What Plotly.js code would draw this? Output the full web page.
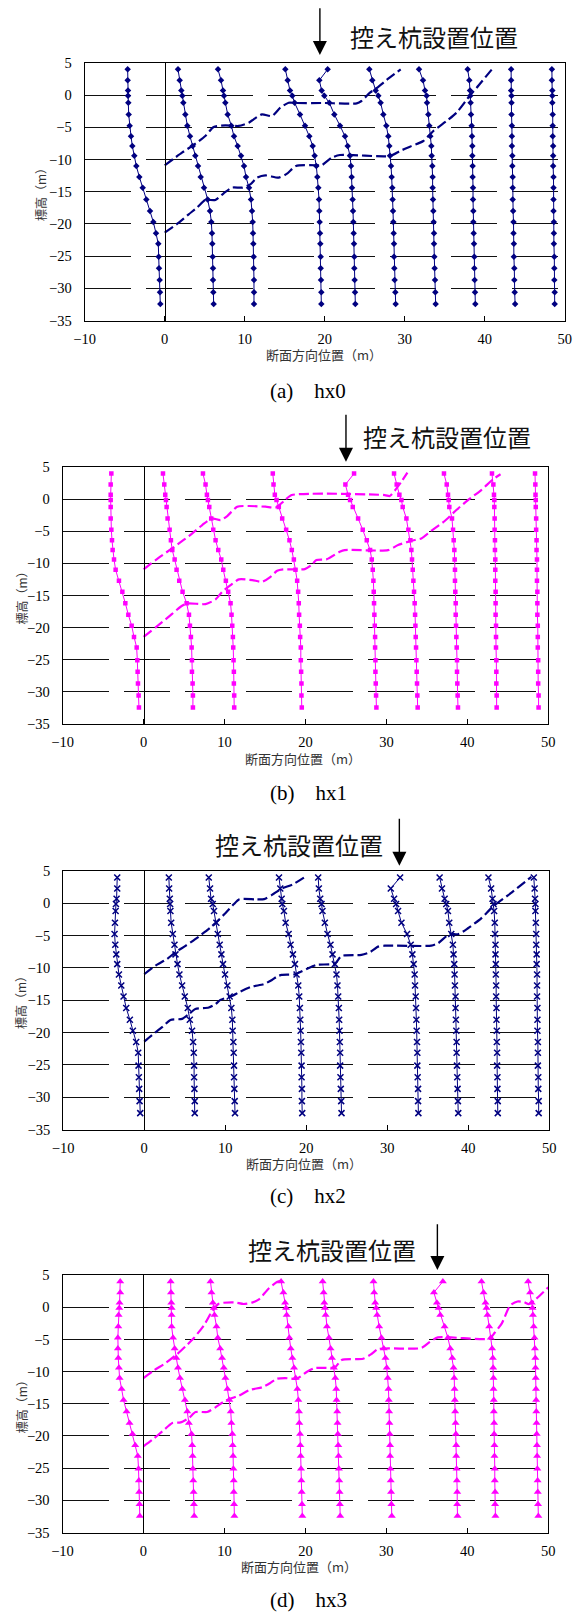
<!DOCTYPE html>
<html><head><meta charset="utf-8">
<script src="https://cdn.plot.ly/plotly-3.0.1.min.js"></script>
<style>html,body{margin:0;padding:0;background:#fff}#chart{width:576px;height:1614px}</style>
</head><body><div id="chart"></div>
<script>
// ---------------- data ----------------
const levels = [4.0, 2.3, 0.7, -0.1, -1.2, -3.0, -4.75, -6.4, -7.9, -9.4, -11.0, -12.7, -14.4, -16.2, -18.0, -19.7, -21.45, -23.1, -25.1, -26.9, -28.7, -30.6, -32.45];

const xTickVals = [-10, 0, 10, 20, 30, 40, 50];
const yTickVals = [5, 0, -5, -10, -15, -20, -25, -30, -35];

const captions = ['(a)\u2003hx0', '(b)\u2003hx1', '(c)\u2003hx2', '(d)\u2003hx3'];
const anchorLabel = '控え杭設置位置';
const xTitle = '断面方向位置（m）';
const yTitle = '標高（m）';
const arrowX = [19.4, 25.0, 31.5, 36.3];

// (a) hx0
const hx0Piles = [
  [-4.63,-4.63,-4.59,-4.59,-4.55,-4.5,-4.38,-4.21,-4.05,-3.8,-3.55,-3.17,-2.75,-2.3,-1.84,-1.42,-1.09,-0.8,-0.75,-0.71,-0.63,-0.59,-0.55],
  [1.66,1.87,2.08,2.2,2.33,2.58,2.83,3.16,3.5,3.83,4.16,4.5,4.91,5.37,5.66,5.83,5.91,5.95,6.0,6.04,6.04,6.08,6.12],
  [6.66,7.04,7.29,7.41,7.58,7.87,8.33,8.66,9.12,9.54,9.91,10.16,10.54,10.79,10.91,11.0,11.04,11.08,11.12,11.12,11.16,11.16,11.16],
  [15.08,15.37,15.66,15.95,16.24,16.91,17.54,18.08,18.5,18.74,18.95,19.08,19.2,19.29,19.33,19.37,19.41,19.45,19.5,19.5,19.54,19.58,19.58],
  [20.37,19.33,19.62,19.95,20.58,21.2,21.91,22.54,22.87,23.16,23.29,23.37,23.41,23.49,23.54,23.58,23.62,23.66,23.7,23.7,23.74,23.79,23.83],
  [25.58,25.95,26.37,26.7,26.99,27.33,27.7,27.95,28.08,28.16,28.29,28.37,28.45,28.49,28.54,28.58,28.62,28.66,28.66,28.7,28.74,28.83,28.87],
  [31.79,32.29,32.54,32.74,32.79,32.95,33.08,33.2,33.33,33.37,33.45,33.49,33.49,33.54,33.58,33.62,33.66,33.66,33.7,33.74,33.79,33.83,33.87],
  [37.87,38.08,38.16,38.2,38.24,38.29,38.37,38.41,38.45,38.45,38.49,38.49,38.54,38.54,38.58,38.58,38.62,38.66,38.7,38.7,38.74,38.79,38.83],
  [43.3,43.3,43.3,43.35,43.35,43.35,43.4,43.4,43.4,43.45,43.45,43.5,43.5,43.5,43.55,43.6,43.6,43.65,43.65,43.7,43.7,43.75,43.8],
  [48.4,48.4,48.45,48.45,48.45,48.5,48.5,48.5,48.55,48.55,48.55,48.6,48.6,48.6,48.6,48.65,48.65,48.65,48.7,48.7,48.7,48.75,48.75]
];
const hx0UpperX = [0,2.16,3.54,5.08,6.12,7.58,9.25,10.5,11.12,12.16,13.41,14.45,15.5,16.5,20.0,24.0,24.6,25.66,26.58,27.74,29.5];
const hx0UpperY = [-10.9,-8.94,-7.8,-6.35,-4.95,-4.69,-4.79,-4.28,-3.76,-2.99,-3.25,-1.95,-1.18,-1.23,-1.23,-1.28,-0.92,0.38,1.15,2.34,4.0];
const hx0LowerX = [0,1.75,3.0,4.04,5.08,6.33,7.37,8.41,9.66,10.7,11.54,12.58,14.25,15.29,16.41,19.2,19.62,20.87,21.91,28.16,29.41,30.66,32.33,33.58,35.24,36.49,38.16,39.0,40.9];
const hx0LowerY = [-21.36,-19.81,-18.51,-17.48,-16.29,-16.29,-15.25,-14.37,-14.37,-13.86,-12.82,-12.46,-12.82,-12.2,-11.0,-10.9,-10.9,-9.72,-9.3,-9.45,-8.68,-8.01,-7.13,-5.57,-4.02,-2.73,-0.04,1.15,4.0];

// (b) hx1
const hx1Piles = [
  [-3.99,-4.07,-4.07,-4.07,-4.07,-4.07,-3.99,-3.91,-3.83,-3.66,-3.46,-3.05,-2.63,-2.26,-1.89,-1.48,-1.19,-0.86,-0.78,-0.74,-0.7,-0.62,-0.58],
  [2.39,2.55,2.67,2.76,2.84,2.96,3.21,3.37,3.54,3.83,4.07,4.4,4.81,5.31,5.6,5.72,5.84,5.93,5.97,5.97,6.05,6.09,6.09],
  [7.33,7.65,7.82,7.94,8.11,8.35,8.6,8.89,9.22,9.59,9.84,10.16,10.45,10.74,10.86,10.95,11.03,11.07,11.11,11.15,11.15,11.19,11.19],
  [15.96,16.05,16.21,16.42,16.7,17.12,17.61,18.02,18.31,18.56,18.76,18.97,19.09,19.17,19.21,19.3,19.34,19.42,19.42,19.46,19.5,19.5,19.54],
  [26.0,24.93,25.26,25.51,25.84,26.5,27.07,27.57,27.98,28.19,28.31,28.39,28.43,28.47,28.51,28.56,28.6,28.6,28.64,28.64,28.68,28.72,28.76],
  [30.94,31.27,31.6,31.85,32.01,32.47,32.71,32.96,33.08,33.16,33.25,33.33,33.41,33.49,33.54,33.58,33.62,33.66,33.7,33.74,33.78,33.82,33.86],
  [37.11,37.45,37.61,37.69,37.77,38.1,38.23,38.31,38.39,38.43,38.47,38.47,38.51,38.56,38.56,38.6,38.64,38.68,38.72,38.72,38.76,38.8,38.84],
  [43.04,43.21,43.29,43.33,43.33,43.37,43.37,43.41,43.41,43.45,43.45,43.45,43.49,43.49,43.49,43.54,43.54,43.54,43.58,43.58,43.58,43.62,43.62],
  [48.36,48.4,48.42,48.45,48.45,48.5,48.5,48.55,48.55,48.6,48.6,48.6,48.65,48.65,48.65,48.7,48.7,48.7,48.75,48.75,48.75,48.8,48.8]
];
const hx1UpperX = [0,1.48,2.92,4.36,5.6,7.24,8.4,9.51,10.33,11.56,13.0,15.06,16.3,17.4,18.3,29.79,30.41,31.03,31.85,32.59];
const hx1UpperY = [-10.93,-9.48,-8.18,-6.88,-5.73,-4.02,-2.98,-3.24,-2.61,-1.16,-1.05,-1.16,-1.3,-0.2,0.66,0.66,0.51,1.34,2.74,4.15];
const hx1LowerX = [0,1.56,3.0,4.57,5.39,7.65,8.89,9.71,10.74,11.77,13.42,14.65,15.68,16.5,17.24,19.91,20.74,21.35,22.59,24.23,24.85,30.2,31.44,33.08,34.32,35.55,37.2,38.64,40.08,41.72,43.16,44.1];
const hx1LowerY = [-21.44,-19.88,-18.42,-16.76,-16.24,-16.34,-15.61,-14.42,-13.38,-12.49,-12.6,-12.86,-12.08,-11.14,-10.93,-10.88,-10.26,-9.48,-9.37,-8.18,-7.92,-7.92,-7.14,-6.46,-6.1,-4.9,-3.39,-1.68,-0.12,1.44,3.1,3.9];

// (c) hx2
const hx2Piles = [
  [-3.33,-3.33,-3.41,-3.49,-3.53,-3.61,-3.66,-3.57,-3.45,-3.33,-3.12,-2.83,-2.55,-2.22,-1.77,-1.4,-0.99,-0.74,-0.7,-0.66,-0.62,-0.57,-0.49],
  [3.04,3.08,3.16,3.2,3.24,3.33,3.53,3.74,3.86,4.11,4.35,4.68,5.01,5.38,5.63,5.91,6.04,6.12,6.16,6.16,6.2,6.24,6.24],
  [7.97,8.13,8.25,8.46,8.62,8.91,9.08,9.32,9.53,9.73,9.98,10.27,10.55,10.76,10.88,10.92,11.01,11.05,11.09,11.09,11.13,11.17,11.21],
  [16.64,16.8,16.97,17.05,17.25,17.46,17.83,18.07,18.36,18.61,18.81,19.02,19.14,19.22,19.27,19.31,19.35,19.39,19.43,19.43,19.47,19.47,19.51],
  [21.48,21.56,21.73,21.89,22.01,22.3,22.63,23.0,23.25,23.54,23.74,23.86,23.95,24.03,24.07,24.11,24.15,24.19,24.19,24.23,24.27,24.32,24.36],
  [31.59,30.44,30.85,31.1,31.34,31.76,32.45,32.9,33.11,33.27,33.39,33.44,33.52,33.56,33.6,33.64,33.68,33.72,33.72,33.76,33.81,33.81,33.85],
  [36.47,36.76,37.09,37.29,37.5,37.66,37.91,38.11,38.19,38.28,38.32,38.36,38.44,38.44,38.48,38.53,38.57,38.57,38.61,38.65,38.69,38.73,38.77],
  [42.5,42.83,43.0,43.12,43.2,43.28,43.32,43.37,43.37,43.41,43.41,43.45,43.45,43.49,43.49,43.53,43.53,43.57,43.57,43.61,43.61,43.65,43.65],
  [48.1,48.2,48.25,48.3,48.3,48.35,48.4,48.4,48.45,48.45,48.5,48.5,48.5,48.55,48.55,48.55,48.6,48.6,48.6,48.65,48.65,48.7,48.7]
];
const hx2UpperX = [0,1.4,2.83,3.86,5.09,6.74,8.17,10.02,11.05,11.75,13.72,14.8,15.77,17.0,18.3,20.0];
const hx2UpperY = [-10.97,-9.63,-8.6,-7.57,-6.59,-5.15,-3.76,-1.54,-0.15,0.62,0.62,0.65,1.3,2.3,2.9,4.2];
const hx2LowerX = [0,0.99,2.22,3.24,4.68,5.5,6.32,7.97,8.79,9.4,10.84,11.87,13.31,14.74,15.77,16.39,16.96,18.61,20.05,21.28,23.54,24.36,26.82,27.85,28.88,29.7,35.45,36.27,37.71,38.74,39.97,41.61,43.05,45.5,47.8];
const hx2LowerY = [-21.38,-20.35,-19.16,-18.03,-17.87,-17.15,-16.33,-16.12,-15.61,-14.94,-14.32,-13.65,-12.88,-12.52,-11.85,-11.33,-11.07,-10.97,-10.15,-9.53,-9.32,-8.14,-7.98,-7.57,-6.7,-6.55,-6.55,-6.18,-4.74,-4.79,-3.86,-2.32,-0.51,1.8,4.1];

// (d) hx3
const hx3Piles = [
  [-2.87,-2.87,-2.95,-2.99,-3.07,-3.11,-3.16,-3.16,-3.11,-3.03,-2.95,-2.7,-2.46,-2.09,-1.72,-1.35,-1.02,-0.7,-0.61,-0.57,-0.53,-0.49,-0.45],
  [3.36,3.4,3.44,3.48,3.48,3.48,3.65,3.85,4.06,4.26,4.51,4.8,5.12,5.41,5.61,5.94,6.02,6.07,6.11,6.15,6.19,6.23,6.27],
  [8.28,8.4,8.57,8.69,8.77,9.02,9.18,9.47,9.71,9.92,10.12,10.37,10.61,10.78,10.86,10.98,11.02,11.07,11.11,11.15,11.15,11.19,11.23],
  [17.0,17.28,17.49,17.61,17.69,17.9,18.02,18.19,18.39,18.6,18.8,19.01,19.13,19.21,19.25,19.34,19.38,19.42,19.46,19.5,19.54,19.58,19.62],
  [22.13,22.25,22.33,22.41,22.5,22.66,22.91,23.11,23.28,23.52,23.69,23.81,23.85,23.93,23.97,24.01,24.06,24.1,24.14,24.18,24.22,24.26,24.3],
  [28.41,28.49,28.62,28.74,28.86,29.11,29.39,29.68,29.89,30.05,30.17,30.26,30.3,30.34,30.38,30.42,30.46,30.46,30.5,30.54,30.58,30.62,30.67],
  [36.98,35.87,36.24,36.45,36.66,37.19,37.6,37.89,38.14,38.3,38.38,38.42,38.46,38.5,38.55,38.59,38.63,38.63,38.67,38.71,38.75,38.75,38.79],
  [41.75,42.0,42.24,42.37,42.49,42.7,42.9,43.06,43.15,43.19,43.23,43.23,43.27,43.27,43.31,43.31,43.35,43.35,43.39,43.39,43.43,43.43,43.47],
  [47.5,47.75,47.95,48.05,48.1,48.2,48.3,48.35,48.4,48.42,48.45,48.48,48.5,48.52,48.55,48.57,48.6,48.62,48.65,48.68,48.7,48.73,48.77]
];
const hx3UpperX = [0,1.31,2.75,4.18,5.2,6.23,7.46,8.48,9.3,11.15,12.38,13.4,14.22,15.45,16.48,16.9];
const hx3UpperY = [-11.0,-9.8,-8.66,-7.26,-6.07,-4.78,-2.81,-0.63,0.56,0.77,0.51,0.72,1.18,2.89,3.93,4.1];
const hx3LowerX = [0,1.11,2.34,3.57,4.59,5.61,6.43,7.87,8.89,10.12,11.76,13.2,14.63,15.66,16.48,17.49,18.92,20.15,21.18,23.65,24.47,27.13,28.16,28.98,34.32,35.35,36.37,42.73,43.35,44.26,45.3,46.2,47.0,47.6,48.4,50.0];
const hx3LowerY = [-21.62,-20.58,-19.28,-17.99,-17.89,-17.21,-16.28,-16.28,-15.55,-14.52,-13.74,-12.81,-12.45,-11.77,-11.1,-11.0,-11.1,-10.06,-9.44,-9.34,-8.2,-7.99,-7.26,-6.49,-6.33,-5.4,-4.67,-4.88,-4.0,-2.5,0.3,0.9,0.8,0.5,1.2,3.1];

// ---------------- layout / style ----------------
const W = 576, H = 1614;
const NAVY = '#000080', MAG = '#FF00FF';
const panels = [
  {piles: hx0Piles, ux: hx0UpperX, uy: hx0UpperY, lx: hx0LowerX, ly: hx0LowerY, color: NAVY, symbol: 'diamond', msize: 5,
   l: 84.7, r: 564.7, t: 62.9, b: 320.5, tip: 55, tail: 6.7, labX: 433.6, labY: 36.7, xtX: 323.6, xtY: 354, ytX: 40.3, ytY: 191.7, capY: 390.5},
  {piles: hx1Piles, ux: hx1UpperX, uy: hx1UpperY, lx: hx1LowerX, ly: hx1LowerY, color: MAG, symbol: 'square', msize: 4.5,
   l: 62.7, r: 548.3, t: 467.2, b: 723.8, tip: 461.7, tail: 413.3, labX: 447.4, labY: 436, xtX: 302.5, xtY: 758.3, ytX: 21, ytY: 595.5, capY: 793},
  {piles: hx2Piles, ux: hx2UpperX, uy: hx2UpperY, lx: hx2LowerX, ly: hx2LowerY, color: NAVY, symbol: 'x-thin', msize: 6,
   l: 63.2, r: 549.2, t: 871, b: 1129.6, tip: 865.7, tail: 817.3, labX: 298.9, labY: 844, xtX: 304.4, xtY: 1163.3, ytX: 21, ytY: 1000, capY: 1196},
  {piles: hx3Piles, ux: hx3UpperX, uy: hx3UpperY, lx: hx3LowerX, ly: hx3LowerY, color: MAG, symbol: 'triangle-up', msize: 7,
   l: 62.5, r: 548.3, t: 1275.1, b: 1532.5, tip: 1270, tail: 1222.7, labX: 332.4, labY: 1249.3, xtX: 298.9, xtY: 1566, ytX: 21.3, ytY: 1404, capY: 1600}
];

const traces = [];
const layout = {
  width: W, height: H, margin: {l: 0, r: 0, t: 0, b: 0},
  paper_bgcolor: '#fff', plot_bgcolor: '#fff', showlegend: false,
  annotations: [], hovermode: false
};
const serif = 'Liberation Serif, DejaVu Serif, serif';
const tickFont = {family: serif, size: 14.5, color: '#000'};
const cjk = 'Noto Sans CJK JP, Noto Sans CJK SC, sans-serif';

panels.forEach((p, i) => {
  const n = i === 0 ? '' : String(i + 1);
  const xa = 'x' + n, ya = 'y' + n;
  const ovN = String(i + 5);
  const xdom = [p.l / W, p.r / W];
  const ydom = [1 - p.b / H, 1 - p.t / H];

  layout['xaxis' + n] = {
    domain: xdom, anchor: ya, range: [-10, 50], tickvals: xTickVals,
    ticks: 'inside', ticklen: 5, tickwidth: 1, tickcolor: '#000',
    showline: true, linecolor: '#000', linewidth: 1, mirror: true,
    showgrid: false, zeroline: false, tickfont: tickFont, ticklabelstandoff: 5, fixedrange: true
  };
  layout['yaxis' + n] = {
    domain: ydom, anchor: xa, range: [-35, 5], tickvals: yTickVals,
    ticks: '', showline: true, linecolor: '#000', linewidth: 1, mirror: true,
    showgrid: true, gridcolor: '#111', gridwidth: 1, griddash: '46px,15px',
    zeroline: false, tickfont: tickFont, ticklabelstandoff: 9, fixedrange: true
  };
  const pos = xdom[0] + (0 - (-10)) / 60 * (xdom[1] - xdom[0]);
  layout['yaxis' + ovN] = {
    overlaying: ya, anchor: 'free', position: pos, side: 'left', range: [-35, 5],
    tickvals: yTickVals, ticks: 'inside', ticklen: 4, tickcolor: '#000', tickwidth: 1,
    showline: true, linecolor: '#000', linewidth: 1, showticklabels: false,
    showgrid: false, zeroline: false, fixedrange: true
  };
  traces.push({type: 'scatter', mode: 'lines', x: [], y: [], xaxis: xa, yaxis: 'y' + ovN, hoverinfo: 'skip', showlegend: false});

  p.piles.forEach(px => {
    traces.push({
      type: 'scatter', mode: 'lines+markers', x: px, y: levels, xaxis: xa, yaxis: ya,
      line: {color: p.color, width: 1},
      marker: {symbol: p.symbol, size: p.msize, color: p.color,
               line: {width: p.symbol === 'x-thin' ? 1.5 : 0, color: p.color}},
      hoverinfo: 'skip', showlegend: false
    });
  });
  [[p.ux, p.uy], [p.lx, p.ly]].forEach(([dx, dy]) => {
    traces.push({
      type: 'scatter', mode: 'lines', x: dx, y: dy, xaxis: xa, yaxis: ya,
      line: {color: p.color, width: 2.2, dash: '10px,4px', shape: 'spline', smoothing: 0.6},
      hoverinfo: 'skip', showlegend: false
    });
  });

  // arrow marking the anchor pile
  layout.annotations.push({
    xref: xa, yref: 'paper', x: arrowX[i], y: 1 - p.tip / H,
    ax: 0, ay: -(p.tip - p.tail), axref: 'pixel', ayref: 'pixel',
    showarrow: true, arrowhead: 2, arrowsize: 2, arrowwidth: 1.4, arrowcolor: '#000', standoff: 0, text: ''
  });
  layout.annotations.push({
    xref: 'paper', yref: 'paper', x: p.labX / W, y: 1 - p.labY / H, xanchor: 'center', yanchor: 'middle',
    text: anchorLabel, showarrow: false, font: {family: cjk, size: 24, color: '#111'}
  });
  layout.annotations.push({
    xref: 'paper', yref: 'paper', x: p.xtX / W, y: 1 - p.xtY / H, xanchor: 'center', yanchor: 'middle',
    text: xTitle, showarrow: false, font: {family: cjk, size: 13, color: '#333'}
  });
  layout.annotations.push({
    xref: 'paper', yref: 'paper', x: p.ytX / W, y: 1 - p.ytY / H, xanchor: 'center', yanchor: 'middle',
    text: yTitle, textangle: -90, showarrow: false, font: {family: cjk, size: 12, color: '#333'}
  });
  layout.annotations.push({
    xref: 'paper', yref: 'paper', x: 308 / W, y: 1 - p.capY / H, xanchor: 'center', yanchor: 'middle',
    text: captions[i], showarrow: false, borderpad: 0, font: {family: serif, size: 21, color: '#000'}
  });
});

Plotly.newPlot('chart', traces, layout, {staticPlot: true, displayModeBar: false});
</script>
</body></html>
